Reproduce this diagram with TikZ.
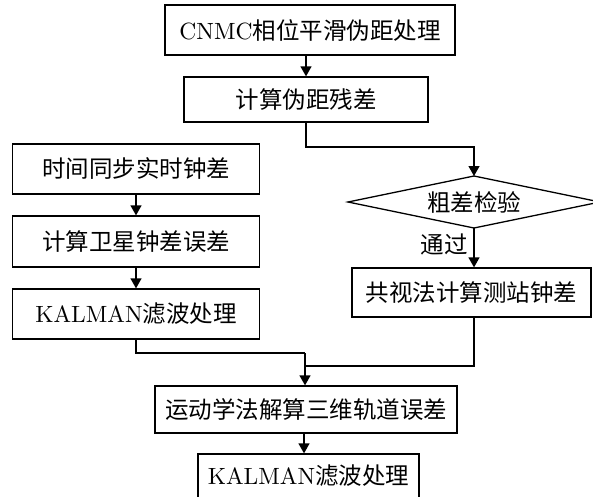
\documentclass[tikz,border=0pt]{standalone}
\usepackage{fontspec}
\setmainfont{lmroman10-regular}[Extension=.otf]
\newfontfamily\cjk{Noto Sans CJK SC}
\usetikzlibrary{arrows.meta}
\newcommand{\fsz}{\fontsize{23.5}{27}\selectfont}
\begin{document}
\begin{tikzpicture}[x=1pt,y=-1pt,line width=1.3pt,
  box/.style={draw,rectangle,inner sep=0pt,font=\fsz},
  arr/.style={-{Triangle[length=10pt,width=11pt]}}]
\useasboundingbox (0,0) rectangle (593,496);
\clip (0,0) rectangle (593,496);
\node[box,minimum width=290pt,minimum height=50pt] (b1) at (310,30) {CNMC{\cjk 相位平滑伪距处理}};
\node[box,minimum width=244pt,minimum height=45pt] (b2) at (306,99.5) {\cjk 计算伪距残差};
\node[box,minimum width=247pt,minimum height=50pt] (l1) at (136,169) {\cjk 时间同步实时钟差};
\node[box,minimum width=247pt,minimum height=51pt] (l2) at (136,241.5) {\cjk 计算卫星钟差误差};
\node[box,minimum width=247pt,minimum height=50pt] (l3) at (136,314) {KALMAN{\cjk 滤波处理}};
\coordinate (dL) at (348,202);
\coordinate (dT) at (474,176);
\coordinate (dR) at (600,202);
\coordinate (dB) at (474,228);
\draw (dL) -- (dT) -- (dR) -- (dB) -- cycle;
\node[font=\fsz,inner sep=0pt] (d) at (474,202) {\cjk 粗差检验};
\node[font=\fsz,inner sep=0pt] (pass) at (444,244) {\cjk 通过};
\node[box,minimum width=239pt,minimum height=49pt] (r) at (471.5,292.5) {\cjk 共视法计算测站钟差};
\node[box,minimum width=302pt,minimum height=47pt] (b5) at (306,409.5) {\cjk 运动学法解算三维轨道误差};
\node[box,minimum width=221pt,minimum height=44pt] (b6) at (308.5,476) {KALMAN{\cjk 滤波处理}};
\coordinate (m1) at (306,147);
\coordinate (m2) at (305,353);
\coordinate (m3) at (305,366);
\draw[arr] (b1.south -| b2.north) -- (b2.north);
\draw[arr] (b2.south) -- (m1) -- (m1 -| dT) -- (dT);
\draw[arr] (dB) -- (dB |- r.north);
\draw[arr] (l1.south) -- (l2.north);
\draw[arr] (l2.south) -- (l3.north);
\draw (l3.south) -- (l3.south |- m2) -- (m2);
\draw (r.south -| dB) -- (dB |- m3) -- (m3);
\draw[arr] (m2) -- (m2 |- b5.north);
\draw[arr] (b5.south -| 304,0) -- (304,0 |- b6.north);
\end{tikzpicture}
\end{document}
